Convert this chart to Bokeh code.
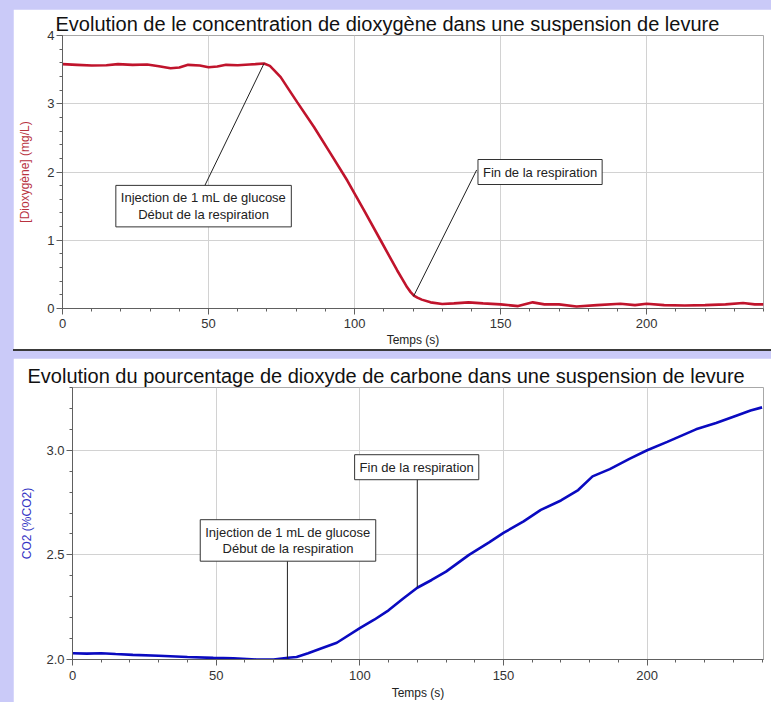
from bokeh.plotting import figure
from bokeh.layouts import column, row
from bokeh.models import Range1d, SingleIntervalTicker, Label, Spacer, PrintfTickFormatter
from bokeh.embed import file_html
from bokeh.resources import INLINE

# ---------------- data ----------------
o2_t = [0, 5, 10, 15, 19, 24, 29, 33, 37, 40, 43, 47, 50, 53, 56, 60, 64, 66,
        69, 71, 72.5, 74.7, 77, 80.4, 86.1, 91.8, 97.5, 103.2, 108.9, 114.6,
        116.5, 118, 119.2, 120.3, 121.5, 123, 126, 130, 134, 139, 144, 150,
        156, 161, 165, 170, 176, 183, 191, 196, 200, 206, 213, 220, 227, 233,
        237, 240]
o2_v = [3.58, 3.57, 3.56, 3.565, 3.58, 3.57, 3.575, 3.55, 3.52, 3.53, 3.57,
        3.56, 3.535, 3.545, 3.57, 3.565, 3.575, 3.58, 3.59, 3.555, 3.49, 3.39,
        3.24, 3.02, 2.66, 2.27, 1.875, 1.44, 1.0, 0.557, 0.42, 0.31, 0.24,
        0.19, 0.16, 0.13, 0.09, 0.065, 0.075, 0.09, 0.075, 0.06, 0.035, 0.09,
        0.06, 0.06, 0.03, 0.05, 0.07, 0.05, 0.07, 0.05, 0.045, 0.05, 0.06,
        0.08, 0.06, 0.06]

co2_t = [0, 5, 10, 15, 21, 30, 40, 49, 56, 64, 70, 75, 78, 82, 86, 92, 100,
         105, 110, 115, 120, 125, 130, 138, 145, 150, 157, 163, 170, 176, 181,
         187, 194, 200, 207, 212, 217, 224, 231, 236, 240]
co2_v = [2.03, 2.028, 2.03, 2.026, 2.022, 2.018, 2.012, 2.008, 2.006, 2.0,
         2.0, 2.008, 2.012, 2.03, 2.05, 2.08, 2.15, 2.19, 2.235, 2.29, 2.343,
         2.38, 2.42, 2.50, 2.56, 2.605, 2.66, 2.715, 2.76, 2.81, 2.875, 2.91,
         2.96, 3.0, 3.04, 3.07, 3.10, 3.13, 3.165, 3.19, 3.205]

title_o2 = "Evolution de le concentration de dioxygène dans une suspension de levure"
title_co2 = "Evolution du pourcentage de dioxyde de carbone dans une suspension de levure"
x_label = "Temps (s)"
y_label_o2 = "[Dioxygène] (mg/L)"
y_label_co2 = "CO2 (%CO2)"
txt_start = "Injection de 1 mL de glucose\nDébut de la respiration"
txt_end = "Fin de la respiration"

# annotation anchors (data units): label centre, leader line start/end
o2_ann = [
    (txt_start, 48.3, 1.50, 69.0, 3.59, 48.6, 1.79),
    (txt_end, 163.5, 2.00, 120.2, 0.18, 141.8, 2.03),
]
co2_ann = [
    (txt_start, 75.0, 2.569, 74.8, 2.005, 74.8, 2.483),
    (txt_end, 119.8, 2.919, 120.0, 2.345, 120.0, 2.861),
]

# ---------------- style ----------------
LAV = "#cacaf8"
FONT = "Liberation Sans"
AXC = "#606060"


def style(p, ylab, ycol, yint, title_offset, ylab_standoff, xl_standoff, xa_standoff):
    p.title.text_font = FONT
    p.title.text_font_size = "20px"
    p.title.text_font_style = "normal"
    p.title.text_color = "#111111"
    p.title.align = "left"
    p.title.offset = title_offset
    p.title.standoff = 2
    p.xaxis.ticker = SingleIntervalTicker(interval=50, num_minor_ticks=5)
    p.yaxis.ticker = SingleIntervalTicker(interval=yint, num_minor_ticks=5)
    p.xgrid.ticker = p.xaxis[0].ticker
    p.ygrid.ticker = p.yaxis[0].ticker
    p.grid.grid_line_color = "#d2d2d2"
    p.grid.grid_line_width = 1
    for ax in (p.xaxis, p.yaxis):
        ax.axis_line_color = AXC
        ax.major_tick_line_color = AXC
        ax.minor_tick_line_color = AXC
        ax.major_tick_in = 0
        ax.minor_tick_in = 0
        ax.major_tick_out = 6
        ax.minor_tick_out = 3
        ax.major_label_text_font = FONT
        ax.major_label_text_font_size = "13px"
        ax.major_label_text_color = "#333333"
        ax.axis_label_text_font = FONT
        ax.axis_label_text_font_size = "12px"
        ax.axis_label_text_font_style = "normal"
    p.xaxis.axis_label = x_label
    p.xaxis.axis_label_text_color = "#222222"
    p.xaxis.major_label_standoff = xl_standoff
    p.xaxis.axis_label_standoff = xa_standoff
    p.yaxis.axis_label = ylab
    p.yaxis.axis_label_text_color = ycol
    p.yaxis.major_label_standoff = 2
    p.yaxis.axis_label_standoff = ylab_standoff


def annotate(p, anns):
    for text, lx, ly, x0, y0, x1, y1 in anns:
        p.segment(x0=[x0], y0=[y0], x1=[x1], y1=[y1], line_color="#202020", line_width=1)
        p.add_layout(Label(x=lx, y=ly, text=text, text_align="center",
                           text_baseline="middle", text_font=FONT,
                           text_font_size="13px", text_color="#222222",
                           text_line_height=1.1,
                           border_line_color="#333333", border_line_width=1,
                           background_fill_color="white", padding=5))


p1 = figure(width=758, height=340, x_range=Range1d(0, 240), y_range=Range1d(0, 4),
            output_backend="svg", toolbar_location=None, title=title_o2,
            min_border_left=49, min_border_right=8, min_border_top=26,
            min_border_bottom=41, outline_line_color="#a8a8a8")
style(p1, y_label_o2, "#b8323f", 1, -7, 12, 4, 2)
p1.line(o2_t, o2_v, line_color="#c0142c", line_width=2.6)
annotate(p1, o2_ann)

p2 = figure(width=758, height=344, x_range=Range1d(0, 240.5), y_range=Range1d(2.0, 3.30),
            output_backend="svg", toolbar_location=None, title=title_co2,
            min_border_left=59, min_border_right=8, min_border_top=29,
            min_border_bottom=43, outline_line_color="#a8a8a8")
style(p2, y_label_co2, "#3434c4", 0.5, -45, 9, 5, 3)
p2.yaxis.formatter = PrintfTickFormatter(format="%.1f")
p2.line(co2_t, co2_v, line_color="#0a0ac0", line_width=2.6)
annotate(p2, co2_ann)

dark = Spacer(width=758, height=2, styles={"background-color": "#3a3a3a"})
gap = Spacer(width=758, height=7)

layout = column(row(p1), dark, gap, row(p2), spacing=0,
                styles={"background-color": LAV, "padding-left": "13px", "padding-top": "9px"})

open("out.html", "w").write(file_html(layout, INLINE))
